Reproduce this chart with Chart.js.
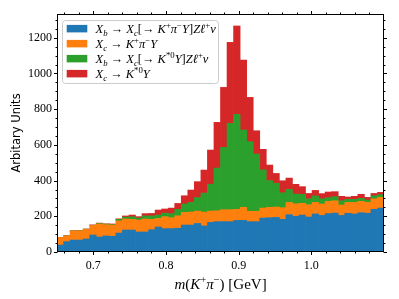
<!DOCTYPE html>
<html>
<head>
<meta charset="utf-8">
<script src="https://cdn.jsdelivr.net/npm/chart.js@4"></script>
<style>
  html, body { margin: 0; padding: 0; background: #fff; }
  #wrap { width: 399px; height: 299px; }
</style>
</head>
<body>
<div id="wrap"><canvas id="hist"></canvas></div>
<script>
// bin centres of m(K+pi-) in GeV (bin width 0.009)
const binCenters = [0.6545, 0.6635, 0.6725, 0.6815, 0.6905, 0.6995, 0.7085, 0.7175, 0.7265, 0.7355,
  0.7445, 0.7535, 0.7625, 0.7715, 0.7805, 0.7895, 0.7985, 0.8075, 0.8165, 0.8255,
  0.8345, 0.8435, 0.8525, 0.8615, 0.8705, 0.8795, 0.8885, 0.8975, 0.9065, 0.9155,
  0.9245, 0.9335, 0.9425, 0.9515, 0.9605, 0.9695, 0.9785, 0.9875, 0.9965, 1.0055,
  1.0145, 1.0235, 1.0325, 1.0415, 1.0505, 1.0595, 1.0685, 1.0775, 1.0865, 1.0955];

// stacked components (counts per bin)
const bKpiY = [39, 58, 67, 67, 73, 95, 84, 90, 88, 106, 123, 123, 112, 112, 125, 140, 131, 131, 133, 151,
  151, 160, 146, 166, 170, 170, 170, 177, 177, 170, 170, 190, 192, 194, 183, 209, 200, 207, 196, 213,
  205, 215, 218, 205, 217, 213, 220, 217, 239, 246];
const cKpiY = [43, 33, 51, 52, 54, 54, 73, 63, 63, 68, 62, 60, 67, 73, 58, 48, 67, 61, 70, 71,
  73, 69, 78, 63, 61, 67, 67, 62, 73, 58, 58, 56, 58, 58, 65, 69, 70, 66, 69, 65,
  64, 69, 69, 58, 61, 65, 64, 61, 59, 60];
const bKstY = [0, 0, 0, 1, 1, 1, 3, 3, 3, 9, 10, 14, 11, 17, 19, 19, 20, 23, 36, 47,
  54, 76, 106, 151, 239, 349, 484, 532, 433, 390, 321, 214, 150, 133, 84, 73, 55, 50, 33, 36,
  29, 20, 23, 24, 17, 17, 16, 13, 17, 15];
const cKstY = [0, 1, 1, 1, 1, 2, 2, 2, 3, 3, 7, 10, 8, 13, 14, 28, 23, 31, 33, 46,
  69, 89, 129, 191, 256, 336, 453, 495, 392, 248, 130, 115, 87, 55, 67, 63, 54, 43, 30, 31,
  29, 32, 28, 25, 13, 17, 23, 15, 13, 13];

const seriesLabels = [
  '$X_b → X_c[→ K^+π^−Y]Zℓ^+ν$',
  '$X_c → K^+π^−Y$',
  '$X_b → X_c[→ K^{*0}Y]Zℓ^+ν$',
  '$X_c → K^{*0}Y$'
];
const seriesColors = ['#1f77b4', '#ff7f0e', '#2ca02c', '#d62728'];

const xTicks = [0.7, 0.8, 0.9, 1.0];
const yTicks = [0, 200, 400, 600, 800, 1000, 1200];
const xMinorStep = 0.02;
const yMinorStep = 50;

const xTitle = '$m(K^+π^−)$ [GeV]';
const yTitle = 'Arbitary Units';

const SERIF = '"Liberation Serif", "DejaVu Serif", serif';

// tiny mathtext: $..$ toggles math, _x / ^{..} sub/superscripts
function parseMath(str) {
  const out = [];
  let math = false, i = 0;
  while (i < str.length) {
    const c = str[i];
    if (c === '$') { math = !math; i++; continue; }
    if (math && (c === '_' || c === '^')) {
      let t;
      i++;
      if (str[i] === '{') { const j = str.indexOf('}', i); t = str.slice(i + 1, j); i = j + 1; }
      else { t = str[i]; i++; }
      for (const ch of t) out.push({ ch, math, pos: c === '_' ? 'sub' : 'sup' });
      continue;
    }
    out.push({ ch: c, math, pos: 'base' });
    i++;
  }
  return out;
}

function fontFor(r, size) {
  const s = r.pos === 'base' ? size : size * 0.7;
  const it = r.math && /[A-Za-zπνℓ]/.test(r.ch);
  return (it ? 'italic ' : '') + s + 'px ' + SERIF;
}

function mathWidth(ctx, str, size) {
  let w = 0;
  for (const r of parseMath(str)) { ctx.font = fontFor(r, size); w += ctx.measureText(r.ch).width; }
  return w;
}

function drawMath(ctx, str, x, y, size) {
  ctx.textBaseline = 'alphabetic';
  ctx.textAlign = 'left';
  for (const r of parseMath(str)) {
    ctx.font = fontFor(r, size);
    let dy = 0;
    if (r.pos === 'sub') dy = size * 0.22;
    if (r.pos === 'sup') dy = -size * 0.4;
    ctx.fillText(r.ch, x, y + dy);
    x += ctx.measureText(r.ch).width;
  }
}

const decorations = {
  id: 'decorations',
  afterDraw(chart) {
    const { ctx, chartArea: a, scales: { x, y } } = chart;
    ctx.save();
    ctx.strokeStyle = '#000';
    ctx.fillStyle = '#000';
    ctx.lineWidth = 1;

    // frame
    const L = Math.round(a.left) + 0.5, R = Math.round(a.right) - 0.5;
    const T = Math.round(a.top) + 0.5, B = Math.round(a.bottom) - 0.5;
    ctx.strokeRect(L, T, R - L, B - T);

    // ticks on all four sides, pointing out
    ctx.beginPath();
    const xt = (v, len) => {
      const p = Math.round(x.getPixelForValue(v)) + 0.5;
      ctx.moveTo(p, B); ctx.lineTo(p, B + len);
      ctx.moveTo(p, T); ctx.lineTo(p, T - len);
    };
    const yt = (v, len) => {
      const p = Math.round(y.getPixelForValue(v)) + 0.5;
      ctx.moveTo(L, p); ctx.lineTo(L - len, p);
      ctx.moveTo(R, p); ctx.lineTo(R + len, p);
    };
    xTicks.forEach(v => xt(v, 3.5));
    for (let k = Math.ceil(x.min / xMinorStep); k * xMinorStep < x.max; k++) {
      const v = k * xMinorStep;
      if (!xTicks.some(t => Math.abs(t - v) < 1e-6)) xt(v, 2);
    }
    yTicks.forEach(v => yt(v, 3.5));
    for (let v = yMinorStep; v < y.max; v += yMinorStep) {
      if (!yTicks.includes(v)) yt(v, 2);
    }
    ctx.stroke();

    // legend
    const lx = 62.5, ly = 20.5, lw = 156, lh = 63;
    ctx.beginPath();
    ctx.roundRect(lx, ly, lw, lh, 3);
    ctx.fillStyle = 'rgba(255,255,255,0.8)';
    ctx.fill();
    ctx.strokeStyle = '#cccccc';
    ctx.stroke();
    chart.data.datasets.forEach((ds, i) => {
      const cy = 28.7 + i * 15;
      ctx.fillStyle = ds.backgroundColor;
      ctx.fillRect(66.7, cy - 3.8, 20.6, 7.5);
      ctx.fillStyle = '#000';
      drawMath(ctx, ds.label, 95.5, cy + 4.2, 12.5);
    });

    // axis titles
    const tw = mathWidth(ctx, xTitle, 15);
    ctx.fillStyle = '#000';
    drawMath(ctx, xTitle, (a.left + a.right) / 2 - tw / 2, 289, 15);

    ctx.translate(17, (a.top + a.bottom) / 2);
    ctx.rotate(-Math.PI / 2);
    ctx.font = '11.5px "DejaVu Sans"';
    ctx.textAlign = 'center';
    ctx.textBaseline = 'middle';
    ctx.fillText(yTitle, 0, 0);
    ctx.restore();
  }
};

const comps = [bKpiY, cKpiY, bKstY, cKstY];

new Chart(document.getElementById('hist'), {
  type: 'bar',
  data: {
    datasets: comps.map((vals, i) => ({
      label: seriesLabels[i],
      data: binCenters.map((c, j) => ({ x: c, y: vals[j] })),
      backgroundColor: seriesColors[i],
      borderWidth: 0,
      barPercentage: 1,
      categoryPercentage: 1
    }))
  },
  options: {
    responsive: true,
    maintainAspectRatio: false,
    animation: false,
    layout: { padding: { top: 14, right: 15, left: 0, bottom: 0 } },
    plugins: { legend: { display: false }, tooltip: { enabled: false } },
    scales: {
      x: {
        type: 'linear',
        stacked: true,
        offset: false,
        min: 0.65,
        max: 1.10,
        grid: { display: false, drawTicks: false, offset: false },
        border: { display: false },
        afterBuildTicks: s => { s.ticks = xTicks.map(v => ({ value: v })); },
        afterFit: s => { s.height = 47; },
        ticks: {
          padding: 7,
          color: '#000',
          font: { family: SERIF, size: 12 },
          callback: v => v.toFixed(1),
          maxRotation: 0
        }
      },
      y: {
        stacked: true,
        min: 0,
        max: 1333,
        grid: { display: false, drawTicks: false },
        border: { display: false },
        afterBuildTicks: s => { s.ticks = yTicks.map(v => ({ value: v })); },
        afterFit: s => { s.width = 57; },
        ticks: {
          padding: 5,
          color: '#000',
          font: { family: SERIF, size: 12 },
          callback: v => String(v)
        }
      }
    }
  },
  plugins: [decorations]
});
</script>
</body>
</html>
